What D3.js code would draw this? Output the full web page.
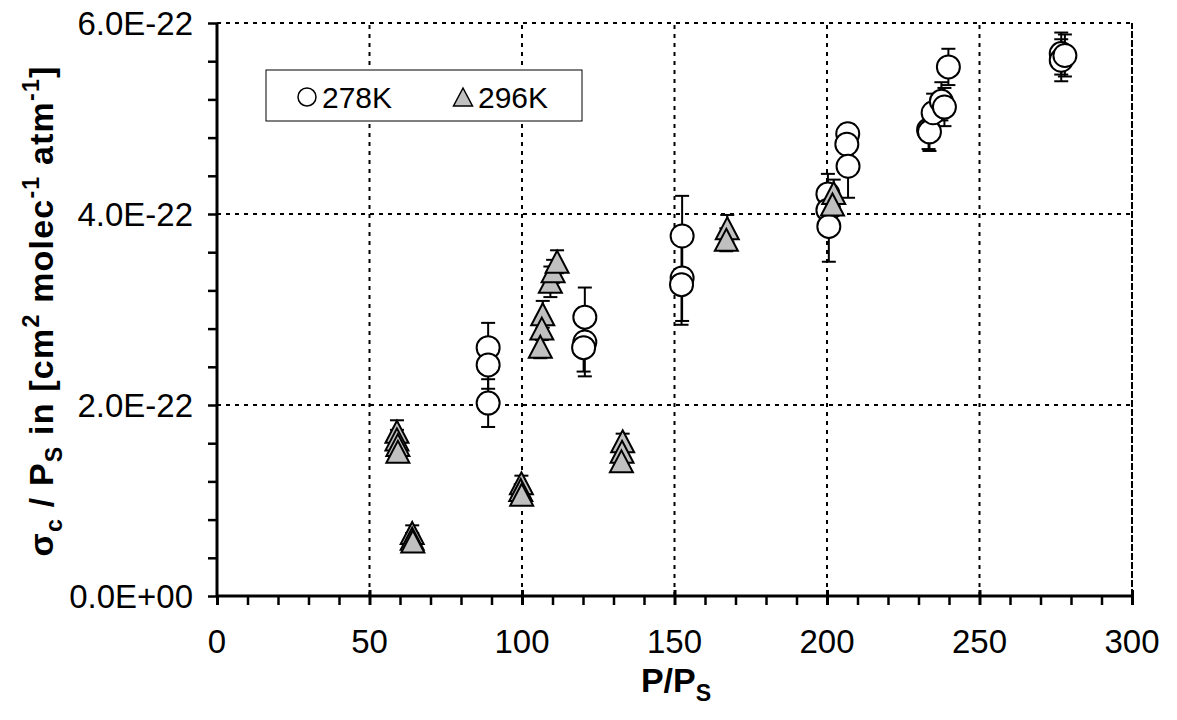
<!DOCTYPE html>
<html><head><meta charset="utf-8">
<script src="https://cdn.jsdelivr.net/npm/d3@7"></script>
<style>body{margin:0;background:#fff;} svg{display:block;font-family:"Liberation Sans",Arial,sans-serif;}</style>
</head><body>
<svg id="c" width="1177" height="720"></svg>
<script>
// ---- data ----
const xTicks = [0, 50, 100, 150, 200, 250, 300];
const yTicks = [0, 2e-22, 4e-22, 6e-22];
const yTickLabels = ["0.0E+00", "2.0E-22", "4.0E-22", "6.0E-22"];
const seriesNames = ["278K", "296K"];

const k278_x = [88.9, 88.9, 88.9, 120.6, 120.6, 120.2, 152.5, 152.5, 152.3, 200.3, 200.3, 200.6, 206.8, 206.5, 206.9, 233.3, 233.6, 234.8, 237.5, 238.5, 239.8, 276.8, 276.8, 278.0];
const k278_y = [2.60, 2.42, 2.02, 2.92, 2.66, 2.60, 3.77, 3.33, 3.26, 4.21, 4.04, 3.87, 4.84, 4.73, 4.50, 4.88, 4.86, 5.06, 5.18, 5.12, 5.54, 5.68, 5.61, 5.66].map(v => v * 1e-22);
const k278_err = [0.26, 0.25, 0.25, 0.31, 0.36, 0.25, 0.42, 0.45, 0.42, 0.21, 0.10, 0.37, 0.10, 0.10, 0.33, 0.20, 0.20, 0.20, 0.20, 0.20, 0.19, 0.22, 0.22, 0.22].map(v => v * 1e-22);

const k296_x = [59.0, 59.0, 59.3, 59.3, 64.0, 64.0, 64.2, 99.8, 99.6, 99.9, 106.8, 106.5, 106.0, 109.3, 110.2, 111.5, 133.0, 132.8, 132.6, 167.3, 167.0, 202.2, 201.8];
const k296_y = [1.72, 1.64, 1.58, 1.51, 0.66, 0.60, 0.57, 1.18, 1.11, 1.06, 2.95, 2.80, 2.61, 3.29, 3.40, 3.50, 1.62, 1.51, 1.41, 3.85, 3.73, 4.22, 4.10].map(v => v * 1e-22);
const k296_err = [0.12, 0.10, 0.10, 0.10, 0.08, 0.06, 0.06, 0.08, 0.06, 0.06, 0.14, 0.12, 0.12, 0.16, 0.12, 0.12, 0.08, 0.06, 0.06, 0.14, 0.12, 0.14, 0.12].map(v => v * 1e-22);

// ---- drawing ----
const svg = d3.select("#c");
const L = 217, R = 1132, T = 23, B = 596;
const x = d3.scaleLinear().domain([0, 300]).range([L, R]);
const y = d3.scaleLinear().domain([0, 6e-22]).range([B, T]);

const FONT = 33;

// gridlines
const grid = svg.append("g");
grid.selectAll("line.gx").data(xTicks.filter(d => d > 0)).join("line")
  .attr("x1", d => x(d)).attr("x2", d => x(d)).attr("y1", B).attr("y2", T)
  .attr("stroke", "#000").attr("stroke-width", 2).attr("stroke-dasharray", d => d === 300 ? "7,2" : "4,5");
grid.selectAll("line.gy").data(yTicks.filter(d => d > 0)).join("line")
  .attr("x1", L).attr("x2", R).attr("y1", d => y(d)).attr("y2", d => y(d))
  .attr("stroke", "#000").attr("stroke-width", 2).attr("stroke-dasharray", "4,5");

// axes
const xAxis = d3.axisBottom(x).tickValues(d3.range(0, 301, 10)).tickSize(9).tickFormat("");
const gx = svg.append("g").attr("transform", `translate(0,${B})`).call(xAxis);
gx.select(".domain").attr("stroke-width", 3).attr("d", `M${L},0H${R}`);
gx.selectAll(".tick line").attr("stroke-width", d => d % 50 === 0 ? 3 : 2.5);
gx.selectAll(".tick").filter(d => d % 50 === 0 && d > 0).append("line")
  .attr("y1", -6).attr("y2", 0).attr("stroke", "#000").attr("stroke-width", 3);

const yAxis = d3.axisLeft(y).tickValues(d3.range(0, 16).map(i => i * 0.4e-22)).tickSize(9).tickFormat("");
const gy = svg.append("g").attr("transform", `translate(${L},0)`).call(yAxis);
gy.select(".domain").attr("stroke-width", 3).attr("d", `M0,${B}V${T}`);
gy.selectAll(".tick line").attr("stroke-width", 2.5);

// tick labels
svg.append("g").selectAll("text").data(xTicks).join("text")
  .attr("x", d => x(d)).attr("y", 653).attr("text-anchor", "middle")
  .attr("font-size", FONT).text(d => d);
svg.append("g").selectAll("text").data(yTicks).join("text")
  .attr("x", 193).attr("y", d => y(d) + 12).attr("text-anchor", "end")
  .attr("font-size", FONT).text((d, i) => yTickLabels[i]);

// rich text helper
function rich(sel, parts, fs) {
  let shift = 0;
  parts.forEach(p => {
    const t = sel.append("tspan").text(p.t);
    let target = 0, size = fs;
    if (p.s === "sub") { target = fs * 0.25; size = fs * 0.68; }
    if (p.s === "sup") { target = -fs * 0.42; size = fs * 0.68; }
    t.attr("dy", target - shift).attr("font-size", size);
    shift = target;
  });
}

// axis titles
const xt = svg.append("text").attr("x", 676).attr("y", 692).attr("text-anchor", "middle")
  .attr("font-weight", "bold").attr("font-size", 34);
rich(xt, [{t: "P/P"}, {t: "S", s: "sub"}], 34);

const yt = svg.append("text").attr("transform", "translate(53,311) rotate(-90)").attr("text-anchor", "middle")
  .attr("font-weight", "bold").attr("font-size", 34).attr("letter-spacing", 1.2);
rich(yt, [{t: "σ"}, {t: "c", s: "sub"}, {t: " / P"}, {t: "S", s: "sub"}, {t: " in [cm"}, {t: "2", s: "sup"},
  {t: " molec"}, {t: "-1", s: "sup"}, {t: " atm"}, {t: "-1", s: "sup"}, {t: "]"}], 34);

// error bars
function errBars(xs, ys, es) {
  const g = svg.append("g").attr("stroke", "#000").attr("stroke-width", 2);
  xs.forEach((xv, i) => {
    const cx = x(xv), y1 = y(ys[i] + es[i]), y2 = y(ys[i] - es[i]);
    g.append("line").attr("x1", cx).attr("x2", cx).attr("y1", y1).attr("y2", y2);
    g.append("line").attr("x1", cx - 7).attr("x2", cx + 7).attr("y1", y1).attr("y2", y1);
    g.append("line").attr("x1", cx - 7).attr("x2", cx + 7).attr("y1", y2).attr("y2", y2);
  });
}
errBars(k278_x, k278_y, k278_err);
errBars(k296_x, k296_y, k296_err);

const tri = (cx, cy, h, w) => `M${cx},${cy - h / 2}L${cx + w / 2},${cy + h / 2}L${cx - w / 2},${cy + h / 2}Z`;

// markers 278K
svg.append("g").selectAll("circle").data(k278_x).join("circle")
  .attr("cx", d => x(d)).attr("cy", (d, i) => y(k278_y[i])).attr("r", 11.5)
  .attr("fill", "#fff").attr("stroke", "#000").attr("stroke-width", 2);

// markers 296K
svg.append("g").selectAll("path").data(k296_x).join("path")
  .attr("d", (d, i) => tri(x(d), y(k296_y[i]), 22, 23))
  .attr("fill", "#c0c0c0").attr("stroke", "#000").attr("stroke-width", 2).attr("stroke-linejoin", "miter");

// legend
const lg = svg.append("g");
lg.append("rect").attr("x", 266).attr("y", 70).attr("width", 316).attr("height", 51)
  .attr("fill", "#fff").attr("stroke", "#000").attr("stroke-width", 1);
lg.append("circle").attr("cx", 307).attr("cy", 97).attr("r", 9)
  .attr("fill", "#fff").attr("stroke", "#000").attr("stroke-width", 1.5);
lg.append("text").attr("x", 322).attr("y", 108).attr("font-size", 30).text(seriesNames[0]);
lg.append("path").attr("d", tri(463, 97, 18, 19))
  .attr("fill", "#c0c0c0").attr("stroke", "#000").attr("stroke-width", 1.5);
lg.append("text").attr("x", 478).attr("y", 108).attr("font-size", 30).text(seriesNames[1]);
</script>
</body></html>
